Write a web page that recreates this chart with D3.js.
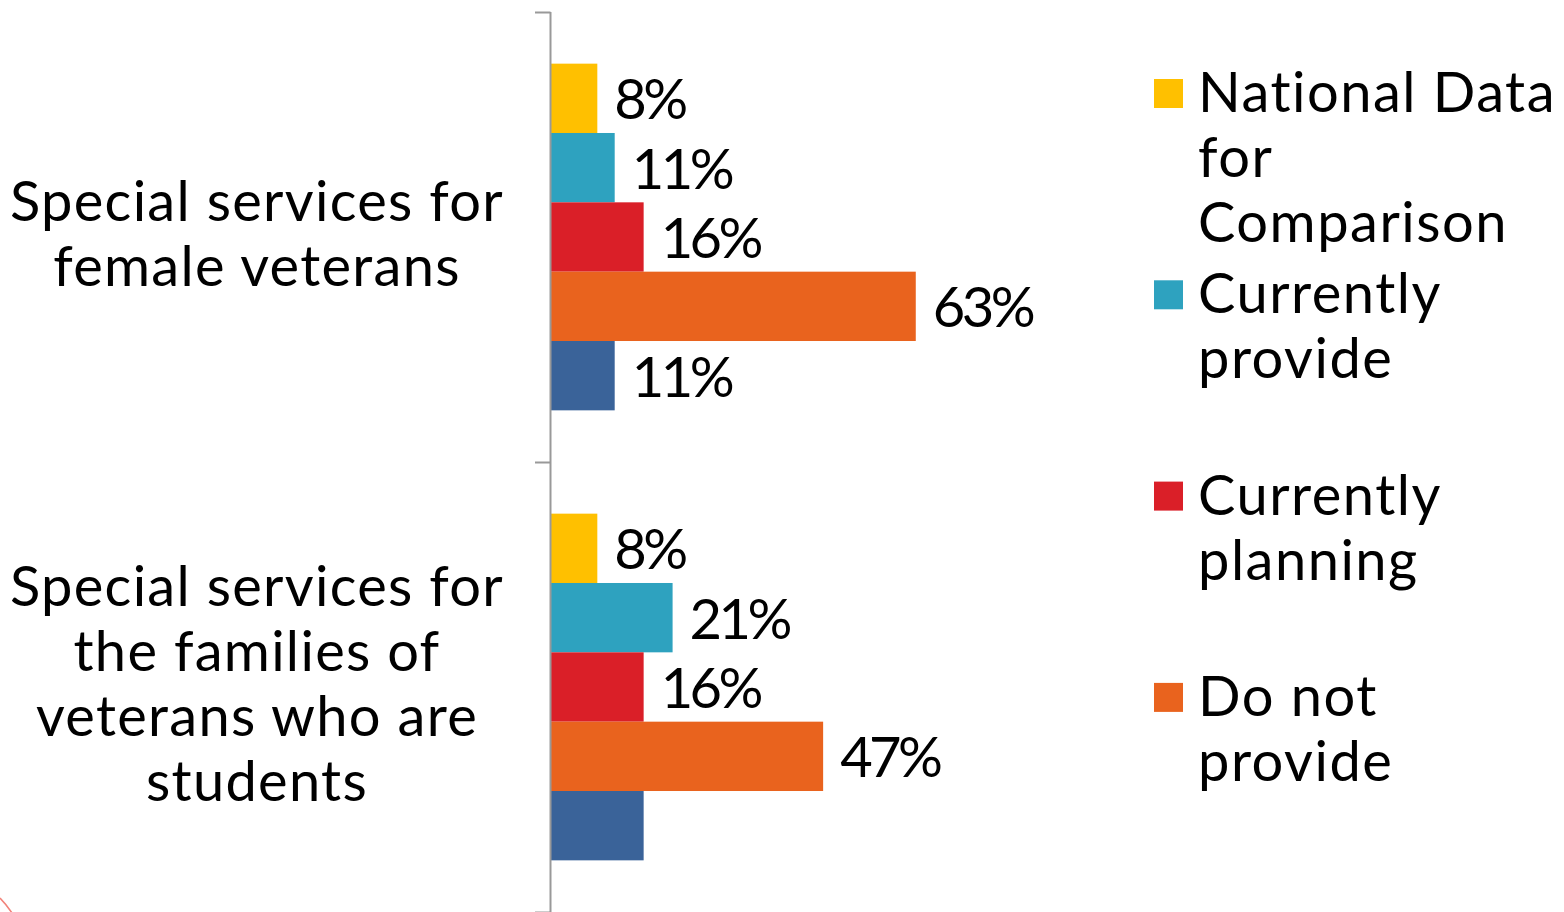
<!DOCTYPE html>
<html>
<head>
<meta charset="utf-8">
<script src="https://cdn.jsdelivr.net/npm/d3@7"></script>
<style>
  html, body { margin: 0; padding: 0; background: #ffffff; }
  svg { display: block; }
  text { font-family: "Lato", "Noto Sans", sans-serif; fill: #000; }
</style>
</head>
<body>
<svg id="chart" width="1564" height="912"></svg>
<script>
// Survey categories (top to bottom)
const categories = [
  "Special services for female veterans",
  "Special services for the families of veterans who are students"
];
const categoryLines = [
  ["Special services for", "female veterans"],
  ["Special services for", "the families of", "veterans who are", "students"]
];

// Series, in drawing order inside each category
const seriesNames = [
  "National Data for Comparison",
  "Currently provide",
  "Currently planning",
  "Do not provide",
  ""
];
const legendLines = [
  ["National Data", "for", "Comparison"],
  ["Currently", "provide"],
  ["Currently", "planning"],
  ["Do not", "provide"]
];
const seriesColors = ["#FFC000", "#2EA2BF", "#DA1F28", "#E9631E", "#3A6399"];

// Percent values per series, one entry per category
const nationalData      = [8, 8];
const currentlyProvide  = [11, 21];
const currentlyPlanning = [16, 16];
const doNotProvide      = [63, 47];
const fifthSeries       = [11, 16];
const seriesValues = [nationalData, currentlyProvide, currentlyPlanning, doNotProvide, fifthSeries];

// Which values carry a printed label
const showLabel = [
  [true, true],
  [true, true],
  [true, true],
  [true, true],
  [true, false]
];

const W = 1564, H = 912;
const svg = d3.select("#chart");

const axisX = 550.5;
const x = d3.scaleLinear().domain([0, 100]).range([551, 1130]);
const yBand = d3.scaleBand().domain(categories).range([12, 912]).paddingInner(0).paddingOuter(0);
const ySub = d3.scaleBand().domain(d3.range(seriesNames.length))
  .range([0, yBand.bandwidth()]).paddingInner(0).paddingOuter(0.745);

const FONT = 56;
const LS_TEXT = "1.3px";
const LS_NUM = "-3.5px";

// Bars
const groups = svg.append("g").selectAll("g")
  .data(categories)
  .join("g")
  .attr("transform", c => `translate(0,${yBand(c)})`);

groups.each(function(c, ci) {
  const g = d3.select(this);
  seriesValues.forEach((vals, si) => {
    g.append("rect")
      .attr("x", x(0))
      .attr("y", ySub(si))
      .attr("width", x(vals[ci]) - x(0))
      .attr("height", ySub.bandwidth())
      .attr("fill", seriesColors[si]);
    if (showLabel[si][ci]) {
      g.append("text")
        .attr("x", x(vals[ci]) + 17)
        .attr("y", ySub(si) + ySub.bandwidth() / 2 + 21)
        .attr("font-size", FONT)
        .style("letter-spacing", LS_NUM)
        .text(vals[ci] + "%");
    }
  });
});

// Category axis: line with ticks at band boundaries
const axis = svg.append("g");
axis.append("line")
  .attr("x1", axisX).attr("x2", axisX)
  .attr("y1", yBand.range()[0]).attr("y2", yBand.range()[1])
  .attr("stroke", "#999").attr("stroke-width", 2);
const tickYs = categories.map(c => yBand(c)).concat([yBand.range()[1]]);
axis.selectAll("line.tick")
  .data(tickYs)
  .join("line")
  .attr("class", "tick")
  .attr("x1", 535).attr("x2", axisX)
  .attr("y1", d => Math.round(d) + 0.5).attr("y2", d => Math.round(d) + 0.5)
  .attr("stroke", "#999").attr("stroke-width", 2);

// Category labels
const LINE_H = 65;
categories.forEach((c, ci) => {
  const lines = categoryLines[ci];
  const mid = yBand(c) + yBand.bandwidth() / 2;
  const first = mid + 16 - (lines.length - 1) * LINE_H / 2;
  const t = svg.append("text")
    .attr("text-anchor", "middle")
    .attr("font-size", FONT)
    .style("letter-spacing", LS_TEXT);
  lines.forEach((ln, li) => {
    t.append("tspan").attr("x", 257).attr("y", first + li * LINE_H).text(ln);
  });
});

// Legend
const legendTop = 79, legendStep = 201.3, sw = 29;
const legend = svg.append("g");
legendLines.forEach((lines, i) => {
  const y0 = legendTop + i * legendStep;
  legend.append("rect")
    .attr("x", 1154).attr("y", y0)
    .attr("width", sw).attr("height", sw)
    .attr("fill", seriesColors[i]);
  const t = legend.append("text")
    .attr("font-size", FONT)
    .style("letter-spacing", "1.5px");
  lines.forEach((ln, li) => {
    t.append("tspan").attr("x", 1198).attr("y", y0 + 33 + li * LINE_H).text(ln);
  });
});

// Decorative arc in the lower-left corner
svg.append("path")
  .attr("d", "M0,898 Q6,904 12,913")
  .attr("fill", "none")
  .attr("stroke", "#F2837A")
  .attr("stroke-width", 1.6);
</script>
</body>
</html>
